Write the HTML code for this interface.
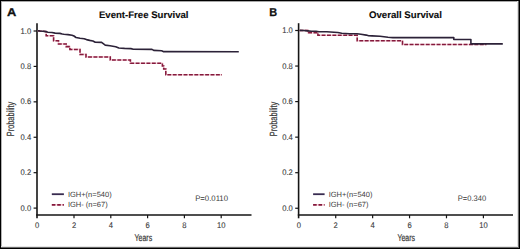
<!DOCTYPE html>
<html><head><meta charset="utf-8"><style>
html,body{margin:0;padding:0;background:#fff;}
svg{display:block;}
text{text-rendering:geometricPrecision;}
.t{font-family:"Liberation Sans", sans-serif;font-size:7.5px;fill:#3a3a3a;}
.tk{font-family:"Liberation Sans", sans-serif;font-size:8.2px;fill:#3a3a3a;stroke:#3a3a3a;stroke-width:0.1px;}
.ti{font-family:"Liberation Sans", sans-serif;font-size:9.5px;font-weight:bold;fill:#0c0c0c;stroke:#0c0c0c;stroke-width:0.12px;}
.let{font-family:"Liberation Sans", sans-serif;font-size:11.4px;font-weight:bold;fill:#111;stroke:#111;stroke-width:0.3px;}
.ax{font-family:"Liberation Sans", sans-serif;font-size:9.8px;fill:#3a3a3a;stroke:#3a3a3a;stroke-width:0.22px;}
</style></head><body>
<svg width="520" height="249" viewBox="0 0 520 249">
<rect x="0" y="0" width="520" height="249" fill="#fff"/>
<line x1="37.0" y1="23.2" x2="37.0" y2="218.3" stroke="#151515" stroke-width="1.6"/>
<line x1="36.2" y1="215.05" x2="251.5" y2="215.05" stroke="#151515" stroke-width="1.5"/>
<line x1="33.6" y1="208.10" x2="37.0" y2="208.10" stroke="#151515" stroke-width="1.2"/>
<text transform="translate(31.2,210.70) scale(0.93,1)" text-anchor="end" class="tk">0.0</text>
<line x1="33.6" y1="172.68" x2="37.0" y2="172.68" stroke="#151515" stroke-width="1.2"/>
<text transform="translate(31.2,175.28) scale(0.93,1)" text-anchor="end" class="tk">0.2</text>
<line x1="33.6" y1="137.26" x2="37.0" y2="137.26" stroke="#151515" stroke-width="1.2"/>
<text transform="translate(31.2,139.86) scale(0.93,1)" text-anchor="end" class="tk">0.4</text>
<line x1="33.6" y1="101.84" x2="37.0" y2="101.84" stroke="#151515" stroke-width="1.2"/>
<text transform="translate(31.2,104.44) scale(0.93,1)" text-anchor="end" class="tk">0.6</text>
<line x1="33.6" y1="66.42" x2="37.0" y2="66.42" stroke="#151515" stroke-width="1.2"/>
<text transform="translate(31.2,69.02) scale(0.93,1)" text-anchor="end" class="tk">0.8</text>
<line x1="33.6" y1="31.00" x2="37.0" y2="31.00" stroke="#151515" stroke-width="1.2"/>
<text transform="translate(31.2,33.60) scale(0.93,1)" text-anchor="end" class="tk">1.0</text>
<text transform="translate(37.20,228.1) scale(0.93,1)" text-anchor="middle" class="tk">0</text>
<line x1="74.00" y1="215" x2="74.00" y2="218.3" stroke="#151515" stroke-width="1.2"/>
<text transform="translate(74.00,228.1) scale(0.93,1)" text-anchor="middle" class="tk">2</text>
<line x1="110.80" y1="215" x2="110.80" y2="218.3" stroke="#151515" stroke-width="1.2"/>
<text transform="translate(110.80,228.1) scale(0.93,1)" text-anchor="middle" class="tk">4</text>
<line x1="147.60" y1="215" x2="147.60" y2="218.3" stroke="#151515" stroke-width="1.2"/>
<text transform="translate(147.60,228.1) scale(0.93,1)" text-anchor="middle" class="tk">6</text>
<line x1="184.40" y1="215" x2="184.40" y2="218.3" stroke="#151515" stroke-width="1.2"/>
<text transform="translate(184.40,228.1) scale(0.93,1)" text-anchor="middle" class="tk">8</text>
<line x1="221.20" y1="215" x2="221.20" y2="218.3" stroke="#151515" stroke-width="1.2"/>
<text transform="translate(221.20,228.1) scale(0.93,1)" text-anchor="middle" class="tk">10</text>
<polyline points="37.8,30.7 40.0,31.0 43.0,31.3 46.2,31.6 46.2,31.6 46.2,35.8 53.6,35.8 53.6,40.8 58.5,40.8 58.5,43.9 66.2,43.9 66.2,46.6 69.9,46.6 69.9,49.4 80.0,49.4 80.0,54.4 86.0,54.4 86.0,56.9 110.3,56.9 110.3,60.0 130.4,60.0 130.4,63.3 162.4,63.3 162.4,66.0 163.7,66.0 163.7,69.0 165.8,69.0 165.8,74.8 222.0,74.8" fill="none" stroke="#f6cdd6" stroke-width="1.6"/>
<polyline points="37.8,30.7 40.0,31.0 43.0,31.3 46.2,31.6 46.2,31.6 46.2,35.8 53.6,35.8 53.6,40.8 58.5,40.8 58.5,43.9 66.2,43.9 66.2,46.6 69.9,46.6 69.9,49.4 80.0,49.4 80.0,54.4 86.0,54.4 86.0,56.9 110.3,56.9 110.3,60.0 130.4,60.0 130.4,63.3 162.4,63.3 162.4,66.0 163.7,66.0 163.7,69.0 165.8,69.0 165.8,74.8 222.0,74.8" fill="none" stroke="#84193c" stroke-width="1.55" stroke-dasharray="3.9 1.5"/>
<polyline points="37.8,30.7 40.0,31.0 43.0,31.3 46.0,31.6 47.9,32.2 52.0,32.5 55.1,33.1 59.9,33.4 62.3,34.0 64.0,34.3 68.0,34.6 72.0,35.2 74.0,36.0 76.0,37.5 80.0,38.3 84.1,38.7 86.5,39.6 89.7,40.4 92.9,41.0 95.3,42.3 101.6,42.4 105.2,45.1 110.0,45.8 115.7,46.7 118.9,48.0 124.5,48.4 130.9,48.6 133.3,49.2 152.0,49.4 153.7,50.4 161.7,50.7 163.3,51.6 238.8,51.8" fill="none" stroke="#2c2238" stroke-width="1.6" stroke-linejoin="round"/>
<line x1="51.8" y1="194.2" x2="63.9" y2="194.2" stroke="#382b50" stroke-width="1.8"/>
<line x1="51.8" y1="204.8" x2="63.9" y2="204.8" stroke="#f6cdd6" stroke-width="1.6"/>
<line x1="51.8" y1="204.8" x2="63.9" y2="204.8" stroke="#84193c" stroke-width="1.7" stroke-dasharray="3.6 1.8"/>
<text x="67.9" y="196.5" class="t">IGH+(n=540)</text>
<text x="67.9" y="206.5" class="t">IGH- (n=67)</text>
<text x="195.2" y="201.1" class="t" style="font-size:8px" textLength="32.8" lengthAdjust="spacingAndGlyphs">P=0.0110</text>
<text x="98.9" y="18" class="ti" textLength="89.6" lengthAdjust="spacingAndGlyphs">Event-Free Survival</text>
<text x="6.9" y="15.9" class="let" textLength="9.3" lengthAdjust="spacingAndGlyphs">A</text>
<text x="134.6" y="241.4" class="ax" textLength="17.6" lengthAdjust="spacingAndGlyphs">Years</text>
<text transform="translate(13.7,136.2) rotate(-90)" x="0" y="0" class="ax" style="font-size:10.4px" textLength="34.4" lengthAdjust="spacingAndGlyphs">Probability</text>
<line x1="298.6" y1="23.2" x2="298.6" y2="218.3" stroke="#151515" stroke-width="1.6"/>
<line x1="297.8" y1="215.05" x2="513.0" y2="215.05" stroke="#151515" stroke-width="1.5"/>
<line x1="295.20000000000005" y1="208.25" x2="298.6" y2="208.25" stroke="#151515" stroke-width="1.2"/>
<text transform="translate(292.8,210.85) scale(0.93,1)" text-anchor="end" class="tk">0.0</text>
<line x1="295.20000000000005" y1="172.70" x2="298.6" y2="172.70" stroke="#151515" stroke-width="1.2"/>
<text transform="translate(292.8,175.30) scale(0.93,1)" text-anchor="end" class="tk">0.2</text>
<line x1="295.20000000000005" y1="137.15" x2="298.6" y2="137.15" stroke="#151515" stroke-width="1.2"/>
<text transform="translate(292.8,139.75) scale(0.93,1)" text-anchor="end" class="tk">0.4</text>
<line x1="295.20000000000005" y1="101.60" x2="298.6" y2="101.60" stroke="#151515" stroke-width="1.2"/>
<text transform="translate(292.8,104.20) scale(0.93,1)" text-anchor="end" class="tk">0.6</text>
<line x1="295.20000000000005" y1="66.05" x2="298.6" y2="66.05" stroke="#151515" stroke-width="1.2"/>
<text transform="translate(292.8,68.65) scale(0.93,1)" text-anchor="end" class="tk">0.8</text>
<line x1="295.20000000000005" y1="30.50" x2="298.6" y2="30.50" stroke="#151515" stroke-width="1.2"/>
<text transform="translate(292.8,33.10) scale(0.93,1)" text-anchor="end" class="tk">1.0</text>
<text transform="translate(298.80,228.1) scale(0.93,1)" text-anchor="middle" class="tk">0</text>
<line x1="335.72" y1="215" x2="335.72" y2="218.3" stroke="#151515" stroke-width="1.2"/>
<text transform="translate(335.72,228.1) scale(0.93,1)" text-anchor="middle" class="tk">2</text>
<line x1="372.64" y1="215" x2="372.64" y2="218.3" stroke="#151515" stroke-width="1.2"/>
<text transform="translate(372.64,228.1) scale(0.93,1)" text-anchor="middle" class="tk">4</text>
<line x1="409.56" y1="215" x2="409.56" y2="218.3" stroke="#151515" stroke-width="1.2"/>
<text transform="translate(409.56,228.1) scale(0.93,1)" text-anchor="middle" class="tk">6</text>
<line x1="446.48" y1="215" x2="446.48" y2="218.3" stroke="#151515" stroke-width="1.2"/>
<text transform="translate(446.48,228.1) scale(0.93,1)" text-anchor="middle" class="tk">8</text>
<line x1="483.40" y1="215" x2="483.40" y2="218.3" stroke="#151515" stroke-width="1.2"/>
<text transform="translate(483.40,228.1) scale(0.93,1)" text-anchor="middle" class="tk">10</text>
<polyline points="299.5,30.4 307.7,30.4 307.7,32.6 317.9,32.6 317.9,35.3 357.2,35.3 357.2,40.8 402.5,40.8 402.5,44.5 486.4,44.5" fill="none" stroke="#f6cdd6" stroke-width="1.6"/>
<polyline points="299.5,30.4 307.7,30.4 307.7,32.6 317.9,32.6 317.9,35.3 357.2,35.3 357.2,40.8 402.5,40.8 402.5,44.5 486.4,44.5" fill="none" stroke="#84193c" stroke-width="1.55" stroke-dasharray="3.9 1.5"/>
<polyline points="299.5,30.4 303.7,30.5 307.5,30.9 311.4,31.3 316.0,31.3 319.0,31.7 326.8,31.8 334.0,32.3 337.8,32.5 341.7,33.3 349.4,33.7 357.0,33.7 360.9,34.3 366.3,35.1 368.6,35.8 372.0,35.9 380.0,36.2 384.0,36.7 388.0,37.2 392.9,37.6 453.8,37.6 453.8,39.5 470.9,39.5 470.9,43.9 502.8,43.9" fill="none" stroke="#2c2238" stroke-width="1.6" stroke-linejoin="round"/>
<line x1="313.1" y1="194.2" x2="324.6" y2="194.2" stroke="#382b50" stroke-width="1.8"/>
<line x1="313.1" y1="204.8" x2="324.6" y2="204.8" stroke="#f6cdd6" stroke-width="1.6"/>
<line x1="313.1" y1="204.8" x2="324.6" y2="204.8" stroke="#84193c" stroke-width="1.7" stroke-dasharray="3.6 1.8"/>
<text x="328.7" y="196.5" class="t">IGH+(n=540)</text>
<text x="328.7" y="206.5" class="t">IGH- (n=67)</text>
<text x="457.8" y="201.1" class="t" style="font-size:8px" textLength="28.3" lengthAdjust="spacingAndGlyphs">P=0.340</text>
<text x="368.9" y="18" class="ti" textLength="73.0" lengthAdjust="spacingAndGlyphs">Overall Survival</text>
<text x="269.2" y="15.5" class="let" textLength="7.9" lengthAdjust="spacingAndGlyphs">B</text>
<text x="397.4" y="241.4" class="ax" textLength="17.6" lengthAdjust="spacingAndGlyphs">Years</text>
<text transform="translate(276.8,136.2) rotate(-90)" x="0" y="0" class="ax" style="font-size:10.4px" textLength="34.4" lengthAdjust="spacingAndGlyphs">Probability</text>
<rect x="1" y="0" width="1" height="249" fill="#b4b4b4"/>
<rect x="0" y="1" width="520" height="1" fill="#a8a8a8"/>
<rect x="517" y="0" width="1" height="249" fill="#e2e2e2"/>
<rect x="0" y="246" width="520" height="1" fill="#e6e6e6"/>
<rect x="518" y="0" width="1" height="249" fill="#6a6a6a"/>
<rect x="0" y="247" width="520" height="1" fill="#6a6a6a"/>
<rect x="0" y="0" width="1" height="249" fill="#000"/>
<rect x="0" y="0" width="520" height="1" fill="#000"/>
<rect x="519" y="0" width="1" height="249" fill="#000"/>
<rect x="0" y="248" width="520" height="1" fill="#000"/>
</svg>
</body></html>
